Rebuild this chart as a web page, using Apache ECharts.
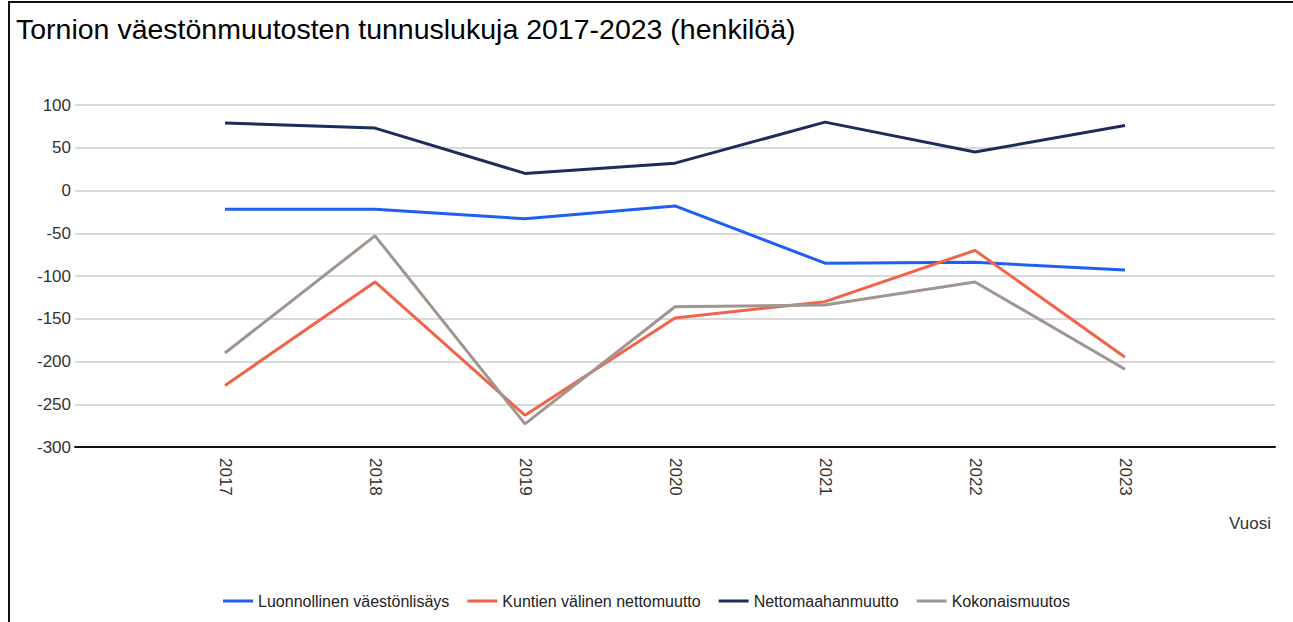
<!DOCTYPE html>
<html>
<head>
<meta charset="utf-8">
<script src="https://cdn.jsdelivr.net/npm/echarts@6/dist/echarts.min.js"></script>
<style>
  html, body { margin: 0; padding: 0; background: #fff; }
  #frame { position: absolute; left: 8px; top: 1px; width: 1285px; height: 621px;
           border-top: 2px solid #111; border-left: 2px solid #111; box-sizing: border-box; }
  #chart { position: absolute; left: 0; top: 0; width: 1293px; height: 622px; }
</style>
</head>
<body>
<div id="frame"></div>
<div id="chart"></div>
<script>
var years = [2017, 2018, 2019, 2020, 2021, 2022, 2023];
var seriesNames = ['Luonnollinen väestönlisäys', 'Kuntien välinen nettomuutto', 'Nettomaahanmuutto', 'Kokonaismuutos'];
var luonnollinen = [-22, -22, -33, -18, -85, -84, -93];
var kuntienValinen = [-228, -107, -263, -149, -130, -70, -195];
var nettomaahanmuutto = [79, 73, 20, 32, 80, 45, 76];
var kokonaismuutos = [-190, -53, -273, -136, -134, -107, -209];
var colors = ['#1f5ff2', '#f2634a', '#1d2c5b', '#a1958f'];

function pairs(vals) {
  return years.map(function(y, i) { return [y, vals[i]]; });
}

var chart = echarts.init(document.getElementById('chart'), null, { renderer: 'svg' });
var font = 'Liberation Sans, Arial, sans-serif';
var allVals = [luonnollinen, kuntienValinen, nettomaahanmuutto, kokonaismuutos];

chart.setOption({
  animation: false,
  textStyle: { fontFamily: font },
  title: {
    text: 'Tornion väestönmuutosten tunnuslukuja 2017-2023 (henkilöä)',
    left: 11, top: 9,
    textStyle: { fontSize: 28.5, fontWeight: 'normal', color: '#000', fontFamily: font }
  },
  legend: {
    data: seriesNames,
    left: 'center', bottom: 8,
    icon: 'rect', itemWidth: 30, itemHeight: 3, itemGap: 18,
    textStyle: { fontSize: 16, color: '#222', fontFamily: font }
  },
  grid: { left: 75, right: 18, top: 105, bottom: 175, containLabel: false },
  xAxis: {
    type: 'value',
    min: 2016, max: 2024, interval: 1,
    splitLine: { show: false },
    axisTick: { show: false },
    axisLine: { onZero: false, lineStyle: { color: '#111', width: 2 } },
    axisLabel: {
      rotate: -90, margin: 11, fontSize: 17, color: '#333',
      formatter: function(v) { return (v < 2017 || v > 2023) ? '' : String(v); }
    },
    name: 'Vuosi',
    nameLocation: 'end',
    nameGap: -4,
    nameTextStyle: { align: 'right', verticalAlign: 'top', padding: [68, 0, 0, 0], fontSize: 17, color: '#333' }
  },
  yAxis: {
    type: 'value',
    min: -300, max: 100, interval: 50,
    axisLine: { show: false },
    axisTick: { show: false },
    axisLabel: { fontSize: 17, color: '#333', margin: 4 },
    splitLine: { lineStyle: { color: '#cccccc', width: 1.5 } }
  },
  series: seriesNames.map(function(name, i) {
    return {
      name: name,
      type: 'line',
      data: pairs(allVals[i]),
      showSymbol: false,
      symbol: 'none',
      lineStyle: { color: colors[i], width: 3 },
      itemStyle: { color: colors[i] }
    };
  })
});
window.addEventListener('resize', function() { chart.resize(); });
</script>
</body>
</html>
